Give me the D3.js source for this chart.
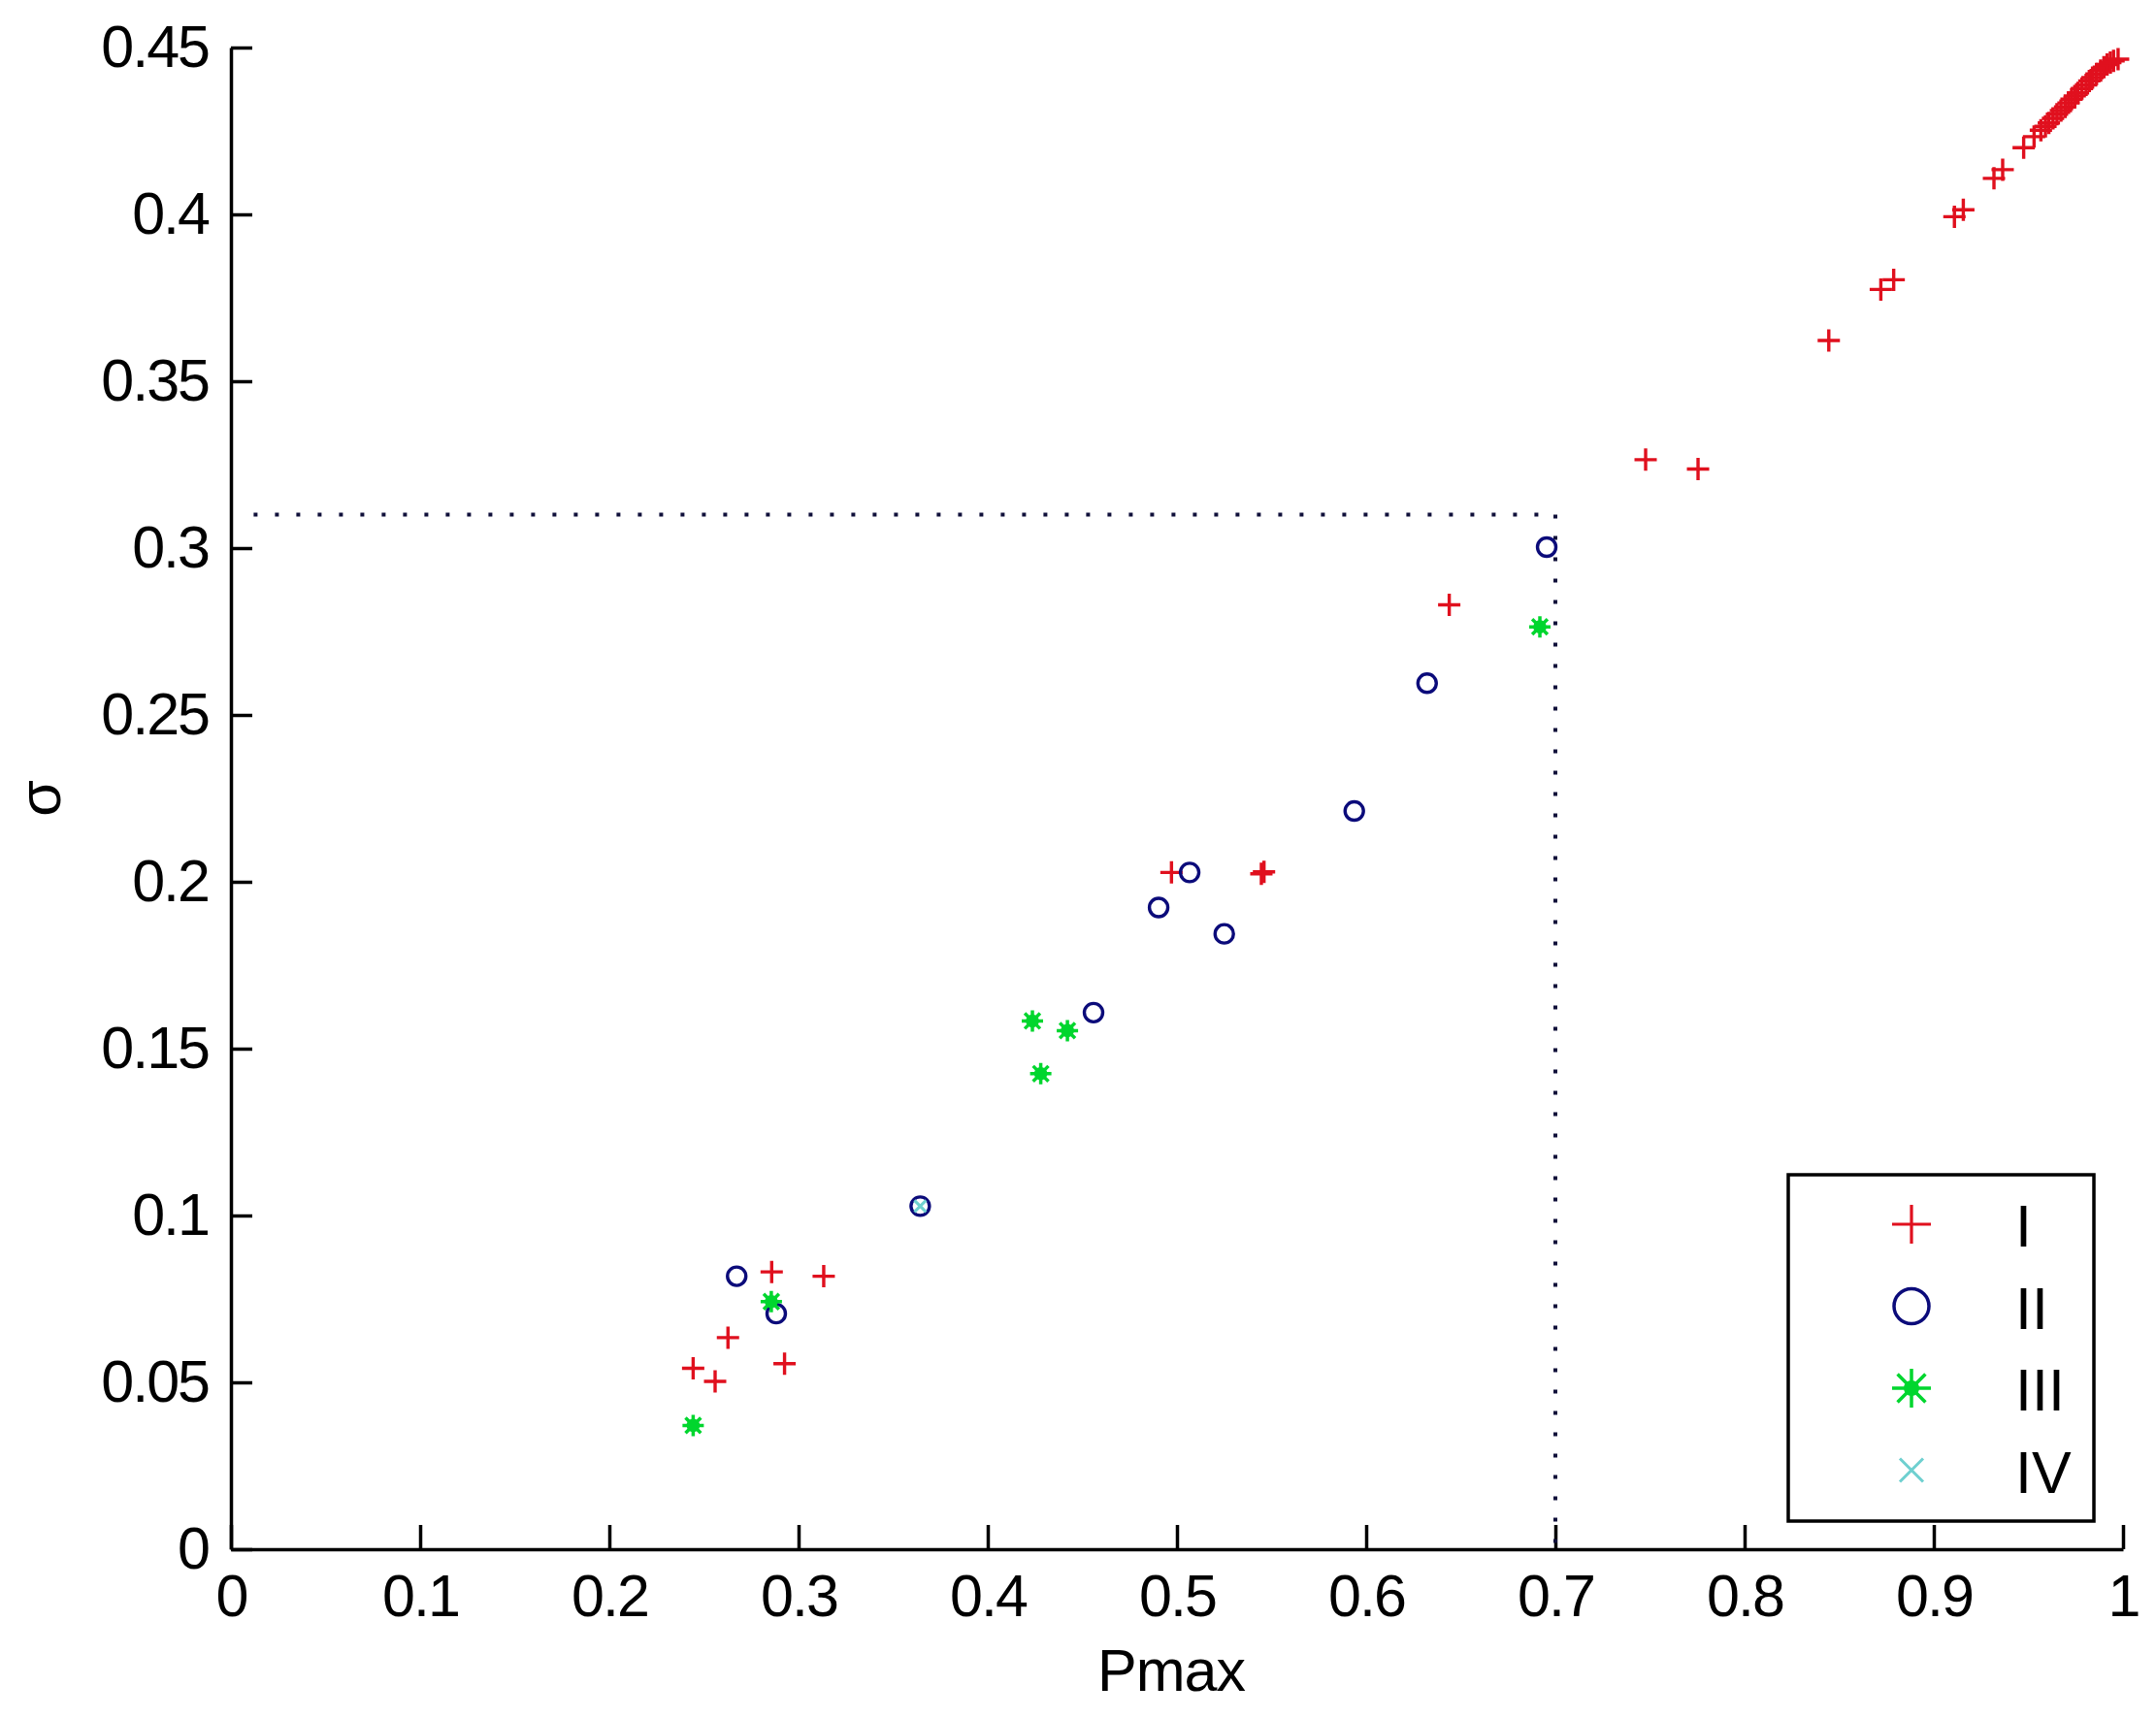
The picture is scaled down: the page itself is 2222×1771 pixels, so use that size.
<!DOCTYPE html>
<html>
<head>
<meta charset="utf-8">
<script src="https://cdn.jsdelivr.net/npm/d3@7"></script>
<style>
  body { margin: 0; background: #fff; }
  svg { display: block; }
</style>
</head>
<body>
<div id="chart"></div>
<script>
"use strict";

// values (Pmax, sigma)
const seriesI = [
  [0.2443, 0.0542], [0.2559, 0.0503], [0.2627, 0.0634], [0.2858, 0.0831],
  [0.2926, 0.0556], [0.3133, 0.0818], [0.4971, 0.2028], [0.5446, 0.2024],
  [0.5460, 0.2030], [0.6439, 0.2830], [0.7477, 0.3265], [0.7754, 0.3237],
  [0.8445, 0.3622], [0.8720, 0.3775], [0.8788, 0.3804], [0.9109, 0.3993],
  [0.9156, 0.4014], [0.9318, 0.4108], [0.9364, 0.4134], [0.9475, 0.4200],
  [0.9530, 0.4233], [0.9566, 0.4252], [0.9590, 0.4264], [0.9608, 0.4274],
  [0.9630, 0.4288], [0.9651, 0.4300], [0.9672, 0.4311], [0.9694, 0.4322],
  [0.9712, 0.4334], [0.9728, 0.4345], [0.9745, 0.4355], [0.9762, 0.4364],
  [0.9783, 0.4377], [0.9805, 0.4388], [0.9822, 0.4400], [0.9839, 0.4410],
  [0.9860, 0.4421], [0.9882, 0.4431], [0.9899, 0.4441], [0.9916, 0.4449],
  [0.9933, 0.4455], [0.9950, 0.4460], [0.9974, 0.4465]
];
const seriesII = [
  [0.2673, 0.0818], [0.2882, 0.0706], [0.3643, 0.1028], [0.4559, 0.1608],
  [0.4903, 0.1923], [0.5067, 0.2028], [0.5250, 0.1844], [0.5937, 0.2212],
  [0.6322, 0.2595], [0.6954, 0.3003]
];
const seriesIII = [
  [0.2443, 0.0371], [0.2856, 0.0742], [0.4236, 0.1583], [0.4280, 0.1425],
  [0.4421, 0.1554], [0.6918, 0.2764]
];
const seriesIV = [
  [0.3643, 0.1028]
];
const legendLabels = ['I', 'II', 'III', 'IV'];

// dotted guide lines: [x1, y1, x2, y2]
const guideLines = [
  [0.012, 0.31, 0.7, 0.31],
  [0.7, 0.31, 0.7, 0]
];

const xTicks = [0, 0.1, 0.2, 0.3, 0.4, 0.5, 0.6, 0.7, 0.8, 0.9, 1];
const yTicks = [0, 0.05, 0.1, 0.15, 0.2, 0.25, 0.3, 0.35, 0.4, 0.45];
const xLabel = 'Pmax';
const yLabel = 'σ';

const W = 2222, H = 1771;
const margin = { left: 238, top: 49, right: 34, bottom: 174 };
const FONT = '"Liberation Sans", Arial, sans-serif';
const FS = 61;

const svg = d3.select('#chart').append('svg')
  .attr('width', W).attr('height', H);

const x = d3.scaleLinear().domain([0, 1]).range([margin.left, W - margin.right]);
const y = d3.scaleLinear().domain([0, 0.45]).range([H - margin.bottom, margin.top]);

const fmt = d => String(+d.toFixed(2));

// marker shapes
const plusPath = s => `M${-s},0H${s}M0,${-s}V${s}`;
const crossPath = s => `M${-s},${-s}L${s},${s}M${-s},${s}L${s},${-s}`;
const starPath = s => plusPath(s) + crossPath(s * 0.72);

const styles = {
  I:   { color: '#e0101e' },
  II:  { color: '#0b0b7a' },
  III: { color: '#00d62e' },
  IV:  { color: '#6fd0d0' }
};

// axes (ticks point inward, no box)
const gx = svg.append('g')
  .attr('transform', `translate(0,${y(0)})`)
  .call(d3.axisBottom(x).tickValues(xTicks).tickFormat(fmt)
    .tickSizeInner(-25).tickSizeOuter(0).tickPadding(26));
const gy = svg.append('g')
  .attr('transform', `translate(${x(0)},0)`)
  .call(d3.axisLeft(y).tickValues(yTicks).tickFormat(fmt)
    .tickSizeInner(-22).tickSizeOuter(0).tickPadding(23));

[gx, gy].forEach(g => {
  g.attr('font-family', FONT).attr('font-size', FS);
  g.selectAll('path, line').attr('stroke', '#000').attr('stroke-width', 3.5);
  g.selectAll('text').attr('fill', '#000').attr('letter-spacing', -2);
});

svg.append('text')
  .attr('x', (x(0) + x(1)) / 2 - 6).attr('y', 1743)
  .attr('text-anchor', 'middle')
  .attr('font-family', FONT).attr('font-size', FS)
  .attr('letter-spacing', -1)
  .text(xLabel);

svg.append('text')
  .attr('transform', `translate(62,${(y(0) + y(0.45)) / 2}) rotate(-90)`)
  .attr('text-anchor', 'middle')
  .attr('font-family', FONT).attr('font-size', FS)
  .text(yLabel);

// dotted guides
svg.append('g').selectAll('line').data(guideLines).join('line')
  .attr('x1', d => x(d[0])).attr('y1', d => y(d[1]))
  .attr('x2', d => x(d[2])).attr('y2', d => y(d[3]))
  .attr('stroke', '#10103a').attr('stroke-width', 4)
  .attr('stroke-dasharray', '4 18');

/**
* draws one marker type at a point list
*/
function drawMarkers(data, kind, sz) {
  const g = svg.append('g');
  const pos = d => `translate(${x(d[0])},${y(d[1])})`;
  if (kind === 'I') {
    g.selectAll('path').data(data).join('path')
      .attr('transform', pos).attr('d', plusPath(sz))
      .attr('fill', 'none').attr('stroke', styles.I.color).attr('stroke-width', 3.4);
  } else if (kind === 'II') {
    g.selectAll('circle').data(data).join('circle')
      .attr('transform', pos).attr('r', sz)
      .attr('fill', 'none').attr('stroke', styles.II.color).attr('stroke-width', 3.4);
  } else if (kind === 'III') {
    const s = g.selectAll('g').data(data).join('g').attr('transform', pos);
    s.append('path').attr('d', starPath(sz))
      .attr('fill', 'none').attr('stroke', styles.III.color).attr('stroke-width', 3.5);
    s.append('circle').attr('r', sz * 0.62).attr('fill', styles.III.color);
  } else {
    g.selectAll('path').data(data).join('path')
      .attr('transform', pos).attr('d', crossPath(sz))
      .attr('fill', 'none').attr('stroke', styles.IV.color).attr('stroke-width', 3);
  }
}

drawMarkers(seriesI, 'I', 11.5);
drawMarkers(seriesII, 'II', 9.5);
drawMarkers(seriesIII, 'III', 11);
drawMarkers(seriesIV, 'IV', 6);

// legend
const lg = { w: 315, h: 357 };
lg.x = x(1) - 30 - lg.w;
lg.y = y(0) - 29 - lg.h;

const leg = svg.append('g').attr('transform', `translate(${lg.x},${lg.y})`);
leg.append('rect')
  .attr('width', lg.w).attr('height', lg.h)
  .attr('fill', '#fff').attr('stroke', '#000').attr('stroke-width', 3.5);

const rows = leg.selectAll('g.row').data(legendLabels).join('g')
  .attr('class', 'row')
  .attr('transform', (d, i) => `translate(0,${51 + i * 84.5})`);

rows.each(function (k) {
  const r = d3.select(this);
  const m = r.append('g').attr('transform', 'translate(127,0)');
  const c = styles[k].color;
  if (k === 'I') {
    m.append('path').attr('d', plusPath(20)).attr('fill', 'none')
      .attr('stroke', c).attr('stroke-width', 3.2);
  } else if (k === 'II') {
    m.append('circle').attr('r', 18).attr('fill', 'none')
      .attr('stroke', c).attr('stroke-width', 3.5);
  } else if (k === 'III') {
    m.append('path').attr('d', starPath(20)).attr('fill', 'none')
      .attr('stroke', c).attr('stroke-width', 3.5);
    m.append('circle').attr('r', 8).attr('fill', c);
  } else {
    m.append('path').attr('d', crossPath(12)).attr('fill', 'none')
      .attr('stroke', c).attr('stroke-width', 3);
  }
  r.append('text')
    .attr('x', 234).attr('y', 23)
    .attr('font-family', FONT).attr('font-size', FS)
    .text(k);
});
</script>
</body>
</html>
